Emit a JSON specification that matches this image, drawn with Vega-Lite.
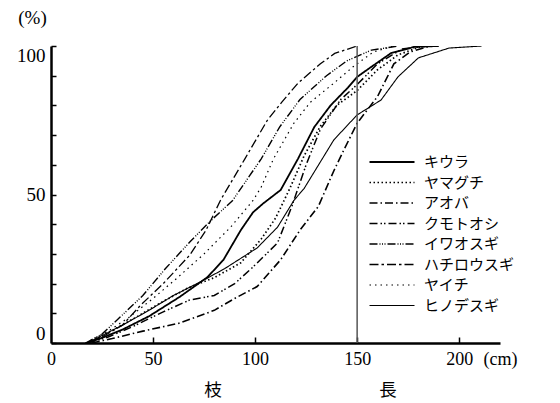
{
  "$schema": "https://vega.github.io/schema/vega-lite/v6.json",
  "width": 449,
  "height": 297,
  "autosize": {"type": "none"},
  "padding": {"left": 51, "top": 46, "right": 60, "bottom": 60},
  "background": "white",
  "config": {"view": {"stroke": null}},
  "datasets": {
    "curves": [
      {"s":"キウラ","x":18,"y":0},{"s":"キウラ","x":26,"y":2},{"s":"キウラ","x":35,"y":4.5},{"s":"キウラ","x":48,"y":9},{"s":"キウラ","x":63,"y":15.5},{"s":"キウラ","x":76.7,"y":22.2},{"s":"キウラ","x":84.5,"y":28},{"s":"キウラ","x":93,"y":38},{"s":"キウラ","x":99,"y":44},{"s":"キウラ","x":104,"y":47},{"s":"キウラ","x":112.5,"y":51.5},{"s":"キウラ","x":121,"y":62},{"s":"キウラ","x":129,"y":72.7},{"s":"キウラ","x":137,"y":80},{"s":"キウラ","x":145.5,"y":86},{"s":"キウラ","x":150,"y":89.6},{"s":"キウラ","x":157,"y":93},{"s":"キウラ","x":166.6,"y":97.6},{"s":"キウラ","x":178,"y":99.7},{"s":"キウラ","x":190,"y":100},
      {"s":"ヤマグチ","x":18,"y":0},{"s":"ヤマグチ","x":28,"y":3.5},{"s":"ヤマグチ","x":40,"y":8},{"s":"ヤマグチ","x":55,"y":14},{"s":"ヤマグチ","x":67,"y":18.5},{"s":"ヤマグチ","x":80,"y":22},{"s":"ヤマグチ","x":93,"y":27},{"s":"ヤマグチ","x":103,"y":35},{"s":"ヤマグチ","x":110,"y":42},{"s":"ヤマグチ","x":117,"y":52},{"s":"ヤマグチ","x":124,"y":63},{"s":"ヤマグチ","x":132,"y":73},{"s":"ヤマグチ","x":140,"y":80},{"s":"ヤマグチ","x":150,"y":85},{"s":"ヤマグチ","x":160,"y":92},{"s":"ヤマグチ","x":170,"y":97},{"s":"ヤマグチ","x":182,"y":100},
      {"s":"アオバ","x":20,"y":0},{"s":"アオバ","x":30,"y":1.5},{"s":"アオバ","x":45,"y":4},{"s":"アオバ","x":63,"y":6.7},{"s":"アオバ","x":80,"y":11},{"s":"アオバ","x":90,"y":15},{"s":"アオバ","x":101,"y":19},{"s":"アオバ","x":112.5,"y":28},{"s":"アオバ","x":122,"y":38},{"s":"アオバ","x":131,"y":46},{"s":"アオバ","x":138.6,"y":58},{"s":"アオバ","x":143.5,"y":65},{"s":"アオバ","x":150,"y":74},{"s":"アオバ","x":160,"y":83},{"s":"アオバ","x":168,"y":94},{"s":"アオバ","x":176,"y":98},{"s":"アオバ","x":186,"y":100},
      {"s":"クモトオシ","x":18,"y":0},{"s":"クモトオシ","x":28,"y":2},{"s":"クモトオシ","x":40,"y":5.5},{"s":"クモトオシ","x":55,"y":10.5},{"s":"クモトオシ","x":68,"y":14.5},{"s":"クモトオシ","x":80,"y":16},{"s":"クモトオシ","x":90,"y":20},{"s":"クモトオシ","x":99,"y":25.6},{"s":"クモトオシ","x":111,"y":33.7},{"s":"クモトオシ","x":118,"y":46},{"s":"クモトオシ","x":125,"y":60},{"s":"クモトオシ","x":132,"y":72},{"s":"クモトオシ","x":142,"y":82},{"s":"クモトオシ","x":150,"y":87},{"s":"クモトオシ","x":160,"y":94},{"s":"クモトオシ","x":172,"y":99},{"s":"クモトオシ","x":185,"y":100},
      {"s":"イワオスギ","x":17,"y":0},{"s":"イワオスギ","x":25,"y":3},{"s":"イワオスギ","x":34,"y":8.8},{"s":"イワオスギ","x":45,"y":16},{"s":"イワオスギ","x":56,"y":25},{"s":"イワオスギ","x":68,"y":34},{"s":"イワオスギ","x":78,"y":41},{"s":"イワオスギ","x":89,"y":48},{"s":"イワオスギ","x":97,"y":56},{"s":"イワオスギ","x":103,"y":62},{"s":"イワオスギ","x":112,"y":72.7},{"s":"イワオスギ","x":122,"y":82},{"s":"イワオスギ","x":135,"y":90},{"s":"イワオスギ","x":145,"y":95},{"s":"イワオスギ","x":157,"y":98.6},{"s":"イワオスギ","x":170,"y":100},
      {"s":"ハチロウスギ","x":17,"y":0},{"s":"ハチロウスギ","x":25,"y":2},{"s":"ハチロウスギ","x":35,"y":6},{"s":"ハチロウスギ","x":44,"y":12.8},{"s":"ハチロウスギ","x":55,"y":20},{"s":"ハチロウスギ","x":68,"y":29.6},{"s":"ハチロウスギ","x":76,"y":38},{"s":"ハチロウスギ","x":83,"y":48},{"s":"ハチロウスギ","x":95,"y":62},{"s":"ハチロウスギ","x":106,"y":75},{"s":"ハチロウスギ","x":113,"y":81},{"s":"ハチロウスギ","x":121,"y":87.5},{"s":"ハチロウスギ","x":132,"y":94},{"s":"ハチロウスギ","x":139,"y":97.5},{"s":"ハチロウスギ","x":150,"y":100},
      {"s":"ヤイチ","x":17,"y":0},{"s":"ヤイチ","x":28,"y":4},{"s":"ヤイチ","x":38,"y":8.5},{"s":"ヤイチ","x":50,"y":15},{"s":"ヤイチ","x":62,"y":22},{"s":"ヤイチ","x":75,"y":30},{"s":"ヤイチ","x":88,"y":39},{"s":"ヤイチ","x":99,"y":48},{"s":"ヤイチ","x":103,"y":52.5},{"s":"ヤイチ","x":109,"y":62},{"s":"ヤイチ","x":119,"y":74},{"s":"ヤイチ","x":127,"y":81},{"s":"ヤイチ","x":138.6,"y":87.5},{"s":"ヤイチ","x":148,"y":93},{"s":"ヤイチ","x":158,"y":98},{"s":"ヤイチ","x":168,"y":100},
      {"s":"ヒノデスギ","x":18,"y":0},{"s":"ヒノデスギ","x":25,"y":2.5},{"s":"ヒノデスギ","x":35,"y":6},{"s":"ヒノデスギ","x":48,"y":11},{"s":"ヒノデスギ","x":60,"y":16},{"s":"ヒノデスギ","x":73,"y":20.5},{"s":"ヒノデスギ","x":85,"y":25},{"s":"ヒノデスギ","x":101,"y":32},{"s":"ヒノデスギ","x":111,"y":39},{"s":"ヒノデスギ","x":119,"y":48},{"s":"ヒノデスギ","x":124,"y":52},{"s":"ヒノデスギ","x":138.6,"y":68.4},{"s":"ヒノデスギ","x":150,"y":76.8},{"s":"ヒノデスギ","x":161.7,"y":81.8},{"s":"ヒノデスギ","x":170,"y":89.6},{"s":"ヒノデスギ","x":180,"y":96},{"s":"ヒノデスギ","x":195,"y":99.3},{"s":"ヒノデスギ","x":211,"y":100}
    ],
    "marker": [{"x": 150, "y": 0, "y2": 100}]
  },
  "resolve": {"axis": {"x": "independent", "y": "independent"}},
  "layer": [
    {
      "data": {"name": "curves"},
      "mark": {"type": "line", "color": "black", "clip": true},
      "encoding": {
        "x": {
          "field": "x", "type": "quantitative",
          "scale": {"domain": [0, 220], "nice": false},
          "axis": {
            "values": [0, 50, 100, 150, 200, 220],
            "labelExpr": "datum.value == 220 ? '(cm)' : datum.label",
            "tickOpacity": {"condition": {"test": "datum.value == 220 || datum.value == 0", "value": 0}, "value": 1},
            "tickSize": -6, "tickWidth": 1.5, "tickColor": "black",
            "domainColor": "black", "domainWidth": 2.5,
            "grid": false, "labelFlush": false, "labelOverlap": false,
            "labelFont": "Liberation Serif", "labelFontSize": 18, "labelColor": "black", "labelPadding": 13,
            "title": "枝　　　　　　　　　長",
            "titleFont": "Noto Sans CJK JP", "titleFontSize": 17.5, "titleFontWeight": "normal", "titleColor": "black",
            "titleX": 249, "titleY": 47, "titleAlign": "center", "titleBaseline": "middle"
          }
        },
        "y": {
          "field": "y", "type": "quantitative",
          "scale": {"domain": [0, 100], "nice": false},
          "axis": {
            "values": [0, 10, 20, 30, 40, 50, 60, 70, 80, 90, 100],
            "labelExpr": "datum.value % 50 == 0 ? datum.label : ''",
            "tickSize": -5, "tickWidth": 1.5, "tickColor": "black",
            "domainColor": "black", "domainWidth": 2.5,
            "grid": false, "labelFlush": true, "labelOverlap": false,
            "labelFont": "Liberation Serif", "labelFontSize": 19, "labelColor": "black", "labelPadding": 11,
            "title": "(%)",
            "titleFont": "Liberation Serif", "titleFontSize": 19, "titleFontWeight": "normal", "titleColor": "black",
            "titleAngle": 0, "titleX": -19, "titleY": -29, "titleAlign": "center", "titleBaseline": "middle"
          }
        },
        "strokeDash": {
          "field": "s", "type": "nominal",
          "scale": {
            "domain": ["キウラ", "ヤマグチ", "アオバ", "クモトオシ", "イワオスギ", "ハチロウスギ", "ヤイチ", "ヒノデスギ"],
            "range": [[1, 0], [1.5, 2.5], [8, 3, 1.5, 3], [8, 3, 1.5, 2, 1.5, 3], [8, 2, 1, 1.5, 1, 1.5, 1, 2], [9, 3, 2.5, 3], [1.5, 4], [1, 0]]
          },
          "legend": {
            "orient": "none", "legendX": 331, "legendY": 106, "title": null, "padding": 0,
            "symbolType": "M-2.5,0L2.5,0", "symbolSize": 324, "symbolStrokeColor": "black", "symbolStrokeWidth": 1.2,
            "labelFont": "Noto Sans CJK JP", "labelFontSize": 15, "labelColor": "black", "labelOffset": 22,
            "rowPadding": 2.5
          }
        },
        "strokeWidth": {
          "field": "s", "type": "nominal",
          "scale": {
            "domain": ["キウラ", "ヤマグチ", "アオバ", "クモトオシ", "イワオスギ", "ハチロウスギ", "ヤイチ", "ヒノデスギ"],
            "range": [1.8, 1.1, 1.1, 1.1, 1.1, 1.3, 1.1, 1.2]
          },
          "legend": null
        }
      }
    },
    {
      "data": {"name": "marker"},
      "mark": {"type": "rule", "color": "#555555", "strokeWidth": 1.5},
      "encoding": {
        "x": {"field": "x", "type": "quantitative", "axis": null},
        "y": {"field": "y", "type": "quantitative", "axis": null},
        "y2": {"field": "y2"}
      }
    }
  ]
}
